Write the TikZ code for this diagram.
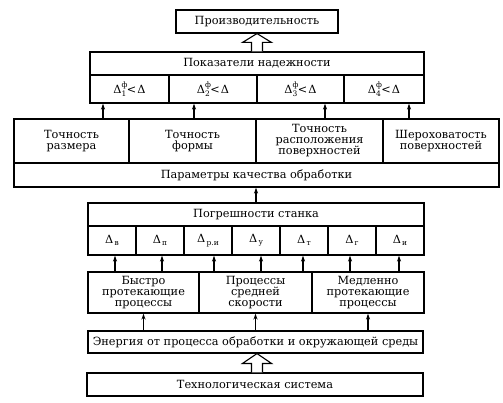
\documentclass[tikz,border=0pt]{standalone}
\usepackage{fontspec}
\setmainfont{DejaVu Serif}
\usetikzlibrary{arrows.meta,calc}
\newcommand{\dsb}[1]{Δ\raisebox{-0.4ex}{\fontsize{7.5}{7.5}\selectfont\,#1}}
\newcommand{\dphi}[1]{Δ\rlap{\raisebox{1.0ex}{\fontsize{7.5}{7.5}\selectfont ф}}\raisebox{-0.45ex}{\fontsize{7.5}{7.5}\selectfont #1}\kern0.5pt<\kern1pt Δ}
\begin{document}
\begin{tikzpicture}[x=1pt,y=-1pt,
  box/.style={draw,line width=1.1pt,rectangle,inner sep=0pt,align=center,
    font=\fontsize{11.3}{11}\selectfont},
  arr/.style={line width=1.1pt,-{Stealth[length=6pt,width=4pt]}},
  hollow/.style={draw,line width=1.1pt,fill=white,line join=miter}]
\useasboundingbox (0,0) rectangle (503,403);
% top
\node[box,minimum width=162pt,minimum height=23pt] (prod) at (257,21.5) {Производительность};
\node[box,minimum width=334pt,minimum height=23pt] (rel) at (257,63.5) {Показатели надежности};
\node[box,minimum width=79pt,minimum height=28pt] (r1) at (129.5,89) {\dphi{1}};
\node[box,minimum width=88pt,minimum height=28pt] (r2) at (213,89) {\dphi{2}};
\node[box,minimum width=87pt,minimum height=28pt] (r3) at (300.5,89) {\dphi{3}};
\node[box,minimum width=80pt,minimum height=28pt] (r4) at (384,89) {\dphi{4}};
% quality
\node[box,minimum width=115pt,minimum height=44pt] (q1) at (71.5,141) {Точность\\размера};
\node[box,minimum width=127pt,minimum height=44pt] (q2) at (192.5,141) {Точность\\формы};
\node[box,minimum width=127pt,minimum height=44pt] (q3) at (319.5,141) {Точность\\расположения\\поверхностей};
\node[box,minimum width=116pt,minimum height=44pt] (q4) at (441,141) {Шероховатость\\поверхностей};
\node[box,minimum width=485pt,minimum height=24pt] (qh) at (256.5,175) {Параметры качества обработки};
% machine
\node[box,minimum width=336pt,minimum height=23pt] (mh) at (256,214.5) {Погрешности станка};
\node[box,minimum width=48pt,minimum height=29pt] (m1) at (112,240.5) {\dsb{в}};
\node[box,minimum width=48pt,minimum height=29pt] (m2) at (160,240.5) {\dsb{п}};
\node[box,minimum width=48pt,minimum height=29pt] (m3) at (208,240.5) {\dsb{р.и}};
\node[box,minimum width=48pt,minimum height=29pt] (m4) at (256,240.5) {\dsb{у}};
\node[box,minimum width=48pt,minimum height=29pt] (m5) at (304,240.5) {\dsb{т}};
\node[box,minimum width=48pt,minimum height=29pt] (m6) at (352,240.5) {\dsb{г}};
\node[box,minimum width=48pt,minimum height=29pt] (m7) at (400,240.5) {\dsb{и}};
% processes
\node[box,minimum width=111pt,minimum height=41pt] (p1) at (143.5,292.5) {Быстро\\протекающие\\процессы};
\node[box,minimum width=113pt,minimum height=41pt] (p2) at (255.5,292.5) {Процессы\\средней\\скорости};
\node[box,minimum width=112pt,minimum height=41pt] (p3) at (368,292.5) {Медленно\\протекающие\\процессы};
% energy, tech
\node[box,minimum width=335pt,minimum height=22pt] (en) at (255.5,342) {Энергия от процесса обработки и окружающей среды};
\node[box,minimum width=336pt,minimum height=23pt] (tech) at (255,384.5) {Технологическая система};
% hollow arrows
\path[hollow] ([xshift=-5.5pt]rel.north) -- ++(0,-9) -- ++(-9,0) -- (prod.south) -- ([xshift=14.5pt,yshift=9pt]rel.north) -- ++(-9,0) -- ([xshift=5.5pt]rel.north);
\path[hollow] ([xshift=-3.5pt]tech.north) -- ++(0,-9) -- ++(-9,0) -- ([xshift=1.5pt]en.south) -- ([xshift=16.5pt,yshift=9pt]tech.north) -- ++(-9,0) -- ([xshift=7.5pt]tech.north);
% thin arrows
\draw[arr] ([xshift=31.5pt]q1.north) -- ([xshift=-26.5pt]r1.south);
\draw[arr] ([xshift=1.5pt]q2.north) -- ([xshift=-19pt]r2.south);
\draw[arr] ([xshift=5.5pt]q3.north) -- ([xshift=24.5pt]r3.south);
\draw[arr] ([xshift=-32pt]q4.north) -- ([xshift=25pt]r4.south);
\draw[arr] (mh.north) -- (qh.south -| mh.north);
\draw[arr] ([xshift=3pt]p1.north -| m1.south) -- ([xshift=3pt]m1.south);
\draw[arr] ([xshift=2pt]p1.north -| m2.south) -- ([xshift=2pt]m2.south);
\draw[arr] ([xshift=6pt]p2.north -| m3.south) -- ([xshift=6pt]m3.south);
\draw[arr] ([xshift=5pt]p2.north -| m4.south) -- ([xshift=5pt]m4.south);
\draw[arr] ([xshift=-1pt]p2.north -| m5.south) -- ([xshift=-1pt]m5.south);
\draw[arr] ([xshift=-2pt]p3.north -| m6.south) -- ([xshift=-2pt]m6.south);
\draw[arr] ([xshift=-1pt]p3.north -| m7.south) -- ([xshift=-1pt]m7.south);
\draw[arr] (en.north -| p1.south) -- (p1.south);
\draw[arr] (en.north -| p2.south) -- (p2.south);
\draw[arr] (en.north -| p3.south) -- (p3.south);
\end{tikzpicture}
\end{document}
